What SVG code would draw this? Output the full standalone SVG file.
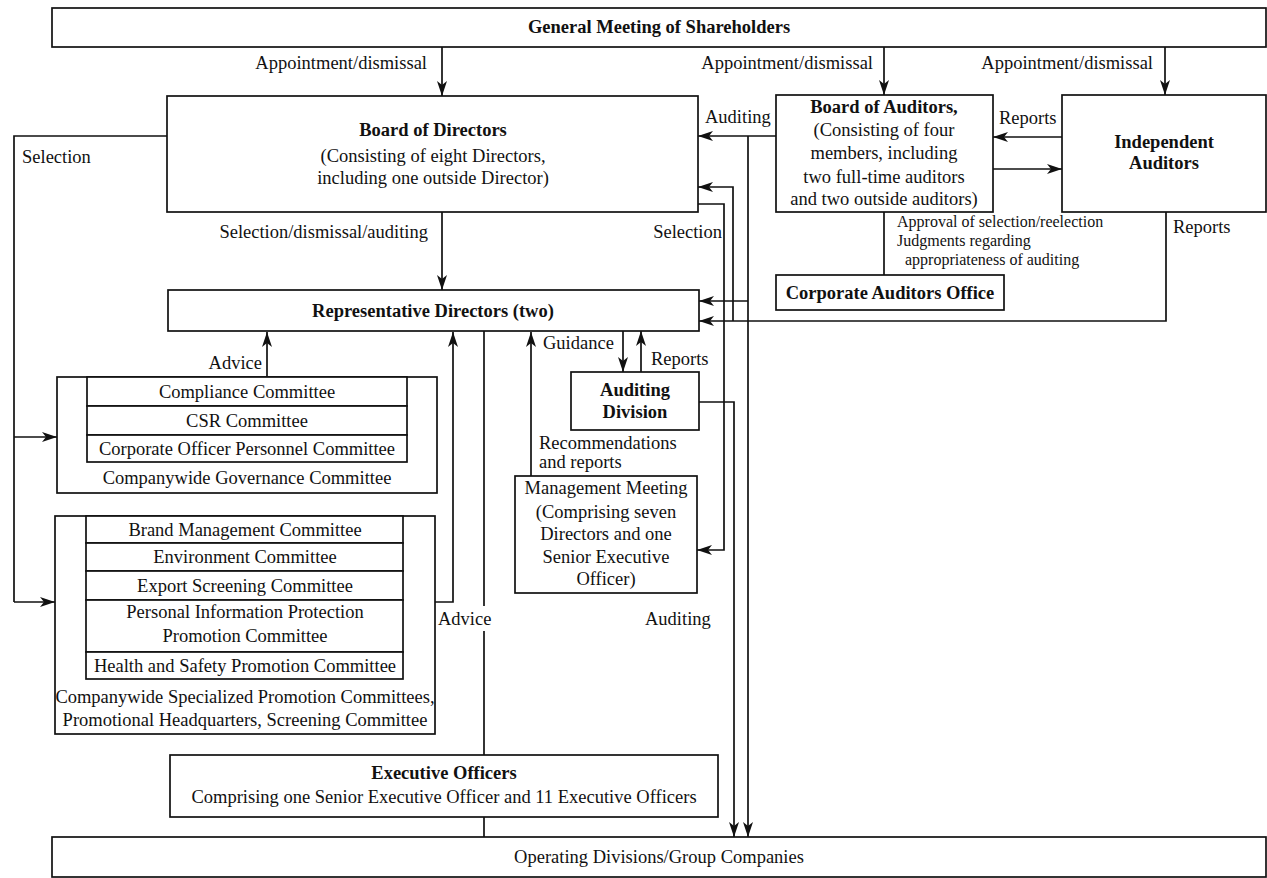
<svg xmlns="http://www.w3.org/2000/svg" width="1267" height="878" viewBox="0 0 1267 878">
<style>
text{font-family:"Liberation Serif","Times New Roman",serif;font-size:18.5px;fill:#111}
.b{font-weight:bold}
.m{text-anchor:middle}
.e{text-anchor:end}
.s{font-size:16px}
.box{fill:#fff;stroke:#111;stroke-width:1.7}
.ln{fill:none;stroke:#111;stroke-width:1.7}
.ar{fill:none;stroke:#111;stroke-width:1.7;marker-end:url(#ah)}
</style>
<defs>
<marker id="ah" markerUnits="userSpaceOnUse" markerWidth="16" markerHeight="10" refX="15" refY="5" orient="auto">
<path d="M0,0 L15,5 L0,10 L4,5 z" fill="#111"/>
</marker>
</defs>
<rect width="1267" height="878" fill="#fff"/>

<g id="connectors">
<path class="ar" d="M442,47 V96"/>
<path class="ar" d="M884,47 V95"/>
<path class="ar" d="M1165,47 V95"/>
<path class="ar" d="M442,212 V290"/>
<path class="ln" d="M167,136 H14 V602"/>
<path class="ar" d="M14,437 H57"/>
<path class="ar" d="M14,602 H55"/>
<path class="ar" d="M776,136 H698"/>
<path class="ar" d="M748,136 V837"/>
<path class="ar" d="M748,301 H699"/>
<path class="ar" d="M1062,137 H993"/>
<path class="ar" d="M993,169 H1062"/>
<path class="ln" d="M884,212 V275"/>
<path class="ar" d="M1166,212 V321 H699"/>
<path class="ar" d="M733,321 V187 H698"/>
<path class="ar" d="M698,204 H724 V550 H697"/>
<path class="ar" d="M699,402 H734 V837"/>
<path class="ar" d="M623,331 V372"/>
<path class="ar" d="M641,372 V331"/>
<path class="ar" d="M267,377 V332"/>
<path class="ar" d="M435,602 H453 V332"/>
<path class="ar" d="M531,476 V332"/>
<path class="ln" d="M484,331 V606"/>
<path class="ln" d="M484,631 V755"/>
<path class="ln" d="M484,817 V837"/>
</g>

<g id="general-meeting">
<rect class="box" x="52" y="8" width="1214" height="39"/>
<text class="b m" x="659" y="33">General Meeting of Shareholders</text>
</g>
<g id="labels-top">
<text class="e" x="427" y="69">Appointment/dismissal</text>
<text class="e" x="873" y="69">Appointment/dismissal</text>
<text class="e" x="1153" y="69">Appointment/dismissal</text>
</g>

<g id="board-of-directors">
<rect class="box" x="167" y="96" width="531" height="116"/>
<text class="b m" x="433" y="136">Board of Directors</text>
<text class="m" x="433" y="162">(Consisting of eight Directors,</text>
<text class="m" x="433" y="184">including one outside Director)</text>
</g>

<g id="board-of-auditors">
<rect class="box" x="776" y="95" width="217" height="117"/>
<text class="b m" x="884" y="113">Board of Auditors,</text>
<text class="m" x="884" y="136">(Consisting of four</text>
<text class="m" x="884" y="159">members, including</text>
<text class="m" x="884" y="183">two full-time auditors</text>
<text class="m" x="884" y="205">and two outside auditors)</text>
</g>

<g id="independent-auditors">
<rect class="box" x="1062" y="95" width="204" height="117"/>
<text class="b m" x="1164" y="148">Independent</text>
<text class="b m" x="1164" y="169">Auditors</text>
</g>

<g id="corporate-auditors-office">
<rect class="box" x="776" y="275" width="228" height="35"/>
<text class="b m" x="890" y="299">Corporate Auditors Office</text>
</g>

<g id="labels">
<text x="705" y="123">Auditing</text>
<text x="999" y="124">Reports</text>
<text x="22" y="163">Selection</text>
<text class="e" x="428" y="238">Selection/dismissal/auditing</text>
<text class="e" x="722" y="238">Selection</text>
<text class="s" x="897" y="227">Approval of selection/reelection</text>
<text class="s" x="897" y="246">Judgments regarding</text>
<text class="s" x="905" y="265">appropriateness of auditing</text>
<text x="1173" y="233">Reports</text>
<text class="e" x="262" y="369">Advice</text>
<text x="543" y="349">Guidance</text>
<text x="651" y="365">Reports</text>
<text x="539" y="449">Recommendations</text>
<text x="539" y="468">and reports</text>
<text x="438" y="625">Advice</text>
<text x="645" y="625">Auditing</text>
</g>

<g id="representative-directors">
<rect class="box" x="168" y="290" width="531" height="41"/>
<text class="b m" x="433" y="317">Representative Directors (two)</text>
</g>

<g id="auditing-division">
<rect class="box" x="571" y="372" width="128" height="58"/>
<text class="b m" x="635" y="396">Auditing</text>
<text class="b m" x="635" y="418">Division</text>
</g>

<g id="management-meeting">
<rect class="box" x="515" y="476" width="182" height="117"/>
<text class="m" x="606" y="494">Management Meeting</text>
<text class="m" x="606" y="518">(Comprising seven</text>
<text class="m" x="606" y="540">Directors and one</text>
<text class="m" x="606" y="563">Senior Executive</text>
<text class="m" x="606" y="585">Officer)</text>
</g>

<g id="governance-committee">
<rect class="box" x="57" y="377" width="380" height="116"/>
<rect class="box" x="87" y="377" width="320" height="29"/>
<rect class="box" x="87" y="406" width="320" height="29"/>
<rect class="box" x="87" y="435" width="320" height="27"/>
<text class="m" x="247" y="398">Compliance Committee</text>
<text class="m" x="247" y="427">CSR Committee</text>
<text class="m" x="247" y="455">Corporate Officer Personnel Committee</text>
<text class="m" x="247" y="484">Companywide Governance Committee</text>
</g>

<g id="promotion-committees">
<rect class="box" x="55" y="516" width="380" height="218"/>
<rect class="box" x="86" y="516" width="317" height="27"/>
<rect class="box" x="86" y="543" width="317" height="28"/>
<rect class="box" x="86" y="571" width="317" height="29"/>
<rect class="box" x="86" y="600" width="317" height="52"/>
<rect class="box" x="86" y="652" width="317" height="27"/>
<text class="m" x="245" y="536">Brand Management Committee</text>
<text class="m" x="245" y="563">Environment Committee</text>
<text class="m" x="245" y="592">Export Screening Committee</text>
<text class="m" x="245" y="618">Personal Information Protection</text>
<text class="m" x="245" y="642">Promotion Committee</text>
<text class="m" x="245" y="672">Health and Safety Promotion Committee</text>
<text class="m" x="245" y="703">Companywide Specialized Promotion Committees,</text>
<text class="m" x="245" y="726">Promotional Headquarters, Screening Committee</text>
</g>

<g id="executive-officers">
<rect class="box" x="170" y="755" width="548" height="62"/>
<text class="b m" x="444" y="779">Executive Officers</text>
<text class="m" x="444" y="803">Comprising one Senior Executive Officer and 11 Executive Officers</text>
</g>

<g id="operating-divisions">
<rect class="box" x="52" y="837" width="1214" height="40"/>
<text class="m" x="659" y="863">Operating Divisions/Group Companies</text>
</g>
</svg>
